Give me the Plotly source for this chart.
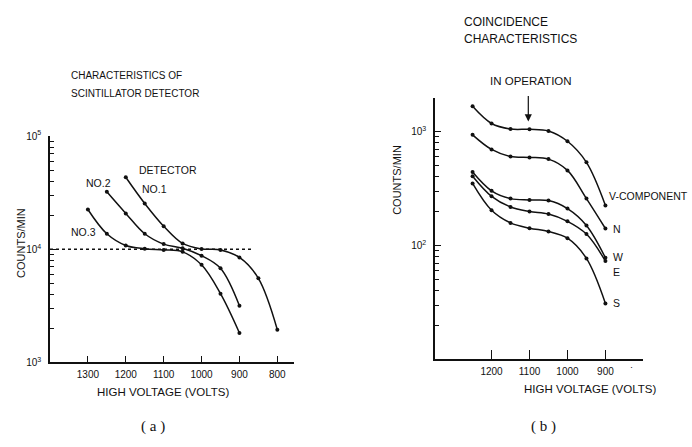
import plotly.graph_objects as go

W, H = 692, 447

# ---------------- data: panel (a) ----------------
a_no1_v = [1200, 1150, 1100, 1050, 1000, 950, 900, 850, 800]
a_no1_c = [43300, 25400, 16000, 11250, 10060, 9860, 8470, 5530, 1945]
a_no2_v = [1250, 1200, 1150, 1100, 1050, 1000, 950, 900]
a_no2_c = [32200, 20750, 13700, 11100, 10200, 8760, 6780, 3160]
a_no3_v = [1300, 1250, 1200, 1150, 1100, 1050, 1000, 950, 900]
a_no3_c = [22450, 13700, 10800, 10100, 9870, 9480, 7280, 4050, 1820]
a_ref_v = [1400, 866]
a_ref_c = [10000, 10000]
a_xticks = [1300, 1200, 1100, 1000, 900, 800]

# ---------------- data: panel (b) ----------------
b_v = [1250, 1200, 1150, 1100, 1050, 1000, 950, 900]
b_vcomp = [1665, 1177, 1052, 1046, 1012, 822, 537, 225]
b_n = [936, 697, 604, 593, 573, 456, 258, 141]
b_w = [442, 302, 258, 251, 248, 211, 150, 78]
b_e = [405, 270, 218, 199, 189, 163, 126, 73]
b_s = [351, 204, 158, 142, 133, 116, 77, 31]
b_xticks = [1200, 1100, 1000, 900]

INK = "#111111"
FONT = "Liberation Sans"


def px(x):
    return x / W


def py(y):
    return 1 - y / H


fig = go.Figure()


def curve(xs, ys, xa, ya):
    fig.add_trace(go.Scatter(
        x=xs, y=ys, xaxis=xa, yaxis=ya, mode="lines+markers",
        line=dict(color=INK, width=1.5, shape="spline", smoothing=1.0),
        marker=dict(color=INK, size=4), showlegend=False, hoverinfo="skip"))


curve(a_no1_v, a_no1_c, "x", "y")
curve(a_no2_v, a_no2_c, "x", "y")
curve(a_no3_v, a_no3_c, "x", "y")
fig.add_trace(go.Scatter(
    x=a_ref_v, y=a_ref_c, xaxis="x", yaxis="y", mode="lines",
    line=dict(color=INK, width=1.5, dash="3px,3px"), showlegend=False,
    hoverinfo="skip"))

for ys in (b_vcomp, b_n, b_w, b_e, b_s):
    curve(b_v, ys, "x2", "y2")


def minor_vals(lo, hi):
    vals = []
    for d in range(lo, hi):
        for m in range(2, 10):
            vals.append(m * 10 ** d)
    return vals


tickfont = dict(family=FONT, size=10, color=INK)

xcommon = dict(showgrid=False, zeroline=False, showline=True, linecolor=INK,
               linewidth=1.5, ticks="inside", tickcolor=INK, tickwidth=1.3,
               ticklen=7, tickfont=tickfont, ticklabelstandoff=2)
ycommon = dict(type="log", showgrid=False, zeroline=False, showline=True,
               linecolor=INK, linewidth=1.5, ticks="inside", tickcolor=INK,
               tickwidth=1.2, ticklen=6, ticklabelstandoff=5,
               tickfont=dict(family=FONT, size=10, color=INK))

fig.update_layout(
    width=W, height=H, margin=dict(l=0, r=0, t=0, b=0),
    paper_bgcolor="white", plot_bgcolor="white", showlegend=False,
    xaxis=dict(xcommon, domain=[px(50), px(294)], range=[1400, 756],
               tickvals=a_xticks, ticktext=[str(v) for v in a_xticks],
               anchor="y"),
    yaxis=dict(ycommon, domain=[py(366), py(133)], range=[3, 5],
               tickvals=[1000, 10000, 100000],
               ticktext=["10<sup>3</sup>", "10<sup>4</sup>", "10<sup>5</sup>"],
               minor=dict(ticks="inside", ticklen=4, tickcolor=INK,
                          tickwidth=1.1, tickvals=minor_vals(3, 5)),
               anchor="x"),
    xaxis2=dict(xcommon, domain=[px(435), px(643)], range=[1349, 801],
                tickvals=b_xticks, ticktext=[str(v) for v in b_xticks],
                ticklen=9, anchor="y2"),
    yaxis2=dict(ycommon, domain=[py(362.7), py(93.3)], range=[1.003, 3.298],
                tickvals=[100, 1000],
                ticktext=["10<sup>2</sup>", "10<sup>3</sup>"],
                minor=dict(ticks="inside", ticklen=4, tickcolor=INK,
                           tickwidth=1.1, tickvals=minor_vals(1, 4)),
                anchor="x2"),
)


def label(text, x, y, size=10, xanchor="left", angle=0, family=FONT):
    fig.add_annotation(text=text, x=px(x), y=py(y), xref="paper",
                       yref="paper", showarrow=False, xanchor=xanchor,
                       yanchor="middle", textangle=angle,
                       font=dict(family=family, size=size, color=INK))


# panel (a) texts
label("CHARACTERISTICS OF", 69, 71, 10)
label("SCINTILLATOR DETECTOR", 69, 89, 10)
label("DETECTOR", 137, 168, 10.5)
label("NO.2", 84, 181, 10.5)
label("NO.1", 140, 187, 10.5)
label("NO.3", 69, 232, 10.5)
label("COUNTS/MIN", 21, 243, 11, xanchor="center", angle=-90)
label("HIGH VOLTAGE (VOLTS)", 163, 397, 11.5, xanchor="center")

# panel (b) texts
label("COINCIDENCE", 462, 15, 12)
label("CHARACTERISTICS", 462, 33, 12)
label("IN OPERATION", 531, 76, 11.5, xanchor="center")
label("V-COMPONENT", 607, 195, 10.5)
label("N", 611, 229, 10.5)
label("W", 611, 258, 10.5)
label("E", 611, 273, 10.5)
label("S", 611, 305, 10.5)
label("·", 631, 371, 9, xanchor="center")
label("COUNTS/MIN", 397, 178, 11, xanchor="center", angle=-90)
label("HIGH VOLTAGE (VOLTS)", 590, 393, 11.5, xanchor="center")

# "in operation" arrow
fig.add_annotation(x=px(528.3), y=py(118), ax=0, ay=-27,
                   xref="paper", yref="paper", axref="pixel", ayref="pixel",
                   showarrow=True, arrowhead=2, arrowsize=1.2, arrowwidth=1.2,
                   arrowcolor=INK, text="")

# captions
label("( a )", 153, 432, 15, xanchor="center", family="Liberation Serif")
label("( b )", 543, 432, 15, xanchor="center", family="Liberation Serif")

fig.write_html("out.html")
